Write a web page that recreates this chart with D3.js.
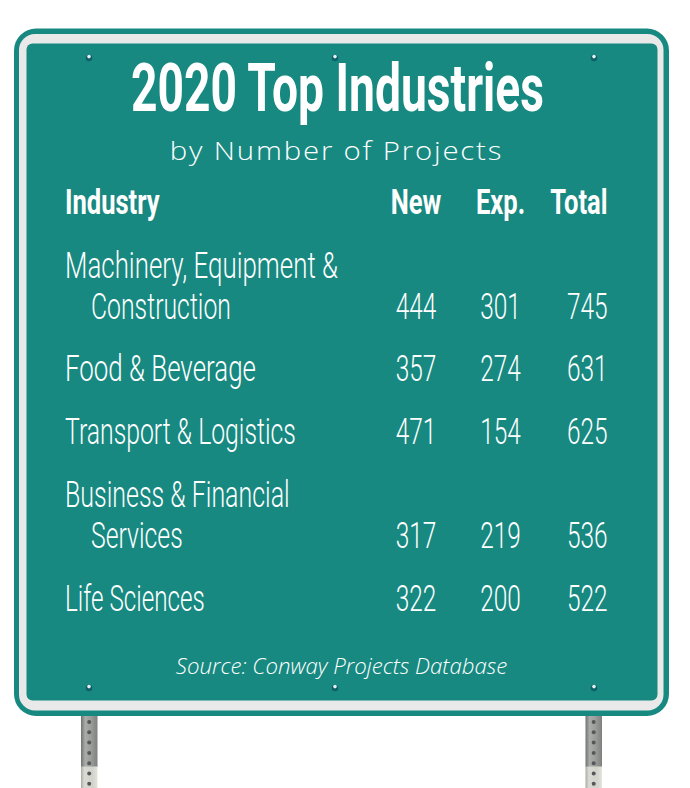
<!DOCTYPE html>
<html><head><meta charset="utf-8">
<script src="https://cdn.jsdelivr.net/npm/d3@7/dist/d3.min.js"></script>
<style>html,body{margin:0;padding:0;background:#fff}svg{display:block}</style>
</head><body><svg id="c" width="690" height="788"></svg>
<script>
const titleText = "2020 Top Industries";
const subtitleText = "by Number of Projects";
const sourceText = "Source: Conway Projects Database";
const headers = ["Industry", "New", "Exp.", "Total"];
const industries = [["Machinery, Equipment &", "Construction"], ["Food & Beverage"], ["Transport & Logistics"], ["Business & Financial", "Services"], ["Life Sciences"]];
const newProjects = [444, 357, 471, 317, 322];
const expProjects = [301, 274, 154, 219, 200];
const totalProjects = [745, 631, 625, 536, 522];

const svg = d3.select("#c");
const defs = svg.append("defs");
const teal = "#178981", grey = "#e9e9e9";
const g1 = defs.append("linearGradient").attr("id","postDark");
[[0,"#6f7371"],[0.25,"#a9aca8"],[0.6,"#9a9d99"],[1,"#7e817e"]].forEach(d=>g1.append("stop").attr("offset",d[0]).attr("stop-color",d[1]));
const g2 = defs.append("linearGradient").attr("id","postLight");
[[0,"#a8aaa4"],[0.2,"#d9dad3"],[0.7,"#d2d3cb"],[1,"#e4e4de"]].forEach(d=>g2.append("stop").attr("offset",d[0]).attr("stop-color",d[1]));

// posts
[81,585.5].forEach(x=>{
  svg.append("rect").attr("x",x).attr("y",714).attr("width",16.5).attr("height",53).attr("fill","url(#postDark)");
  svg.append("rect").attr("x",x).attr("y",766.5).attr("width",16.5).attr("height",22).attr("fill","url(#postLight)");
  svg.append("g").selectAll("circle").data(d3.range(722,788,10.3)).join("circle")
    .attr("cx",x+8.2).attr("cy",d=>d).attr("r",2).attr("fill","#55585a");
});
// sign panel
svg.append("rect").attr("x",14).attr("y",28.5).attr("width",655).attr("height",687.5).attr("rx",22).attr("fill",teal);
svg.append("rect").attr("x",19).attr("y",34).attr("width",644.5).attr("height",676.5).attr("rx",16).attr("fill",grey);
svg.append("rect").attr("x",26.5).attr("y",43.5).attr("width",631).attr("height",657).attr("rx",6).attr("fill",teal);
// bolts
const bx=[89,335,594], by=[58,688];
by.forEach(y=>bx.forEach(x=>{
  svg.append("circle").attr("cx",x).attr("cy",y).attr("r",3.2).attr("fill","#0f5f68");
  svg.append("circle").attr("cx",x).attr("cy",y-1.4).attr("r",1.8).attr("fill","#e6f2f2");
}));

function txt(s,x,y,o){
  const t = svg.append("text").text(s).attr("y",0).attr("x",0)
    .attr("fill","#fff").attr("font-family",o.font).attr("font-size",o.size)
    .attr("font-weight",o.weight||400).attr("font-style",o.style||null)
    .attr("letter-spacing",o.ls||null).attr("text-anchor",o.anchor||"start");
  t.attr("transform",`translate(${x},${y}) scale(${o.sx||1},1)`);
  return t;
}
const F="Roboto, 'Liberation Sans', sans-serif";
txt(titleText,337.5,111,{font:F,size:66,weight:700,anchor:"middle",sx:0.70});
txt(subtitleText,336.5,160,{font:"'Open Sans', sans-serif",size:26,weight:300,anchor:"middle",ls:1.6,sx:1.13});

const col = d3.scaleOrdinal().domain(["New","Exp.","Total"]).range([416,500.5,607.5]);
const anchor = {New:"middle","Exp.":"middle",Total:"end"};
const H={font:F,size:35,weight:700,sx:0.73};
txt(headers[0],65,214,H);
headers.slice(1).forEach(h=>txt(h,col(h),214,{...H,anchor:anchor[h]}));

const rowBase = d3.scaleOrdinal().domain(d3.range(5)).range([319,381,444,548,611]);
const B={font:F,size:37,weight:300};
const N={...B,sx:0.66};
const firstStretch=[0.70,0.70,0.67,0.675,0.655], secondStretch=[0.67,0,0,0.67,0];
industries.forEach((lines,i)=>{
  const y=rowBase(i);
  if(lines.length===2){
    txt(lines[0],65,y-41,{...B,sx:firstStretch[i]});
    txt(lines[1],91,y,{...B,sx:secondStretch[i]});
  } else txt(lines[0],65,y,{...B,sx:firstStretch[i]});
  txt(newProjects[i],col("New"),y,{...N,anchor:"middle"});
  txt(expProjects[i],col("Exp."),y,{...N,anchor:"middle"});
  txt(totalProjects[i],col("Total"),y,{...N,anchor:"end"});
});
txt(sourceText,341.5,674,{font:"'Open Sans', sans-serif",size:22,weight:300,style:"italic",anchor:"middle",sx:1.01});
</script></body></html>
